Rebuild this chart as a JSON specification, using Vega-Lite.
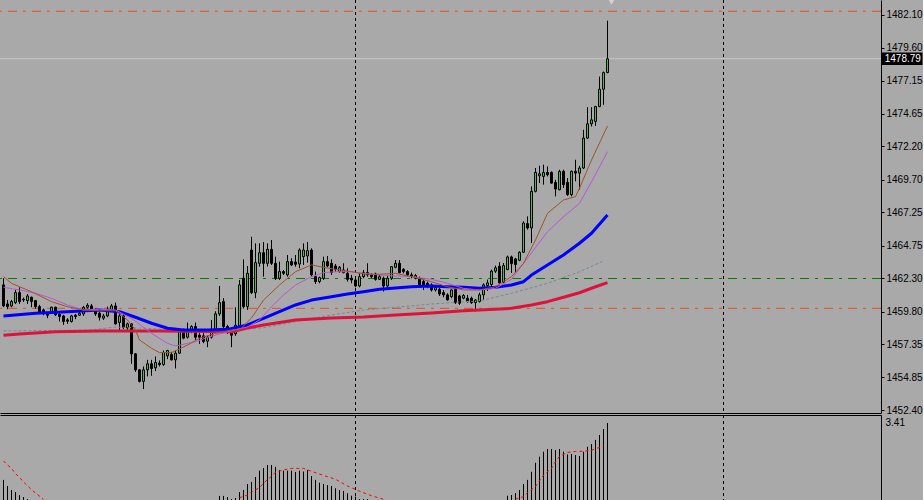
{
  "$schema": "https://vega.github.io/schema/vega-lite/v6.json",
  "background": "#A9A9A9",
  "padding": 0,
  "spacing": 2,
  "bounds": "flush",
  "config": {
    "view": {"stroke": null},
    "axis": {"labelFont": "Liberation Sans", "labelFontSize": 10, "labelColor": "#000000", "domainColor": "#000000", "tickColor": "#000000", "grid": false, "labelOverlap": false}
  },
  "datasets": {
    "candles": [
      {"i":0,"o":1461.80,"h":1462.30,"l":1460.12,"c":1460.22},
      {"i":1,"o":1460.37,"h":1460.67,"l":1459.97,"c":1460.17},
      {"i":2,"o":1460.22,"h":1460.67,"l":1460.12,"c":1460.55},
      {"i":3,"o":1460.47,"h":1461.42,"l":1460.37,"c":1461.22},
      {"i":4,"o":1461.22,"h":1461.62,"l":1460.37,"c":1460.55},
      {"i":5,"o":1460.72,"h":1460.85,"l":1460.52,"c":1460.67},
      {"i":6,"o":1460.62,"h":1461.12,"l":1460.37,"c":1460.97},
      {"i":7,"o":1460.87,"h":1460.92,"l":1460.12,"c":1460.55},
      {"i":8,"o":1460.62,"h":1460.67,"l":1460.02,"c":1460.17},
      {"i":9,"o":1460.17,"h":1460.30,"l":1459.67,"c":1459.77},
      {"i":10,"o":1459.92,"h":1460.02,"l":1459.52,"c":1459.72},
      {"i":11,"o":1459.72,"h":1459.77,"l":1459.30,"c":1459.52},
      {"i":12,"o":1459.67,"h":1460.17,"l":1459.62,"c":1460.12},
      {"i":13,"o":1460.12,"h":1460.17,"l":1459.47,"c":1459.55},
      {"i":14,"o":1459.60,"h":1459.67,"l":1459.05,"c":1459.42},
      {"i":15,"o":1459.47,"h":1459.55,"l":1458.80,"c":1459.05},
      {"i":16,"o":1459.17,"h":1459.30,"l":1458.87,"c":1459.07},
      {"i":17,"o":1459.05,"h":1459.55,"l":1458.97,"c":1459.47},
      {"i":18,"o":1459.52,"h":1459.62,"l":1459.22,"c":1459.42},
      {"i":19,"o":1459.52,"h":1459.77,"l":1459.47,"c":1459.67},
      {"i":20,"o":1459.62,"h":1460.22,"l":1459.47,"c":1460.12},
      {"i":21,"o":1460.12,"h":1460.42,"l":1460.02,"c":1460.27},
      {"i":22,"o":1460.22,"h":1460.37,"l":1459.82,"c":1459.92},
      {"i":23,"o":1459.92,"h":1460.02,"l":1459.47,"c":1459.62},
      {"i":24,"o":1459.67,"h":1459.77,"l":1459.12,"c":1459.37},
      {"i":25,"o":1459.30,"h":1459.62,"l":1459.17,"c":1459.47},
      {"i":26,"o":1459.47,"h":1460.17,"l":1459.37,"c":1459.97},
      {"i":27,"o":1459.92,"h":1460.37,"l":1459.77,"c":1460.22},
      {"i":28,"o":1460.22,"h":1460.47,"l":1458.82,"c":1458.87},
      {"i":29,"o":1458.97,"h":1459.67,"l":1458.30,"c":1459.47},
      {"i":30,"o":1459.47,"h":1459.67,"l":1458.47,"c":1458.62},
      {"i":31,"o":1458.57,"h":1458.97,"l":1458.42,"c":1458.87},
      {"i":32,"o":1458.87,"h":1458.92,"l":1455.87,"c":1456.62},
      {"i":33,"o":1456.62,"h":1456.67,"l":1455.27,"c":1455.42},
      {"i":34,"o":1455.42,"h":1455.47,"l":1454.47,"c":1454.55},
      {"i":35,"o":1454.55,"h":1455.67,"l":1453.97,"c":1455.42},
      {"i":36,"o":1455.42,"h":1456.17,"l":1454.92,"c":1455.87},
      {"i":37,"o":1455.87,"h":1456.17,"l":1454.97,"c":1455.52},
      {"i":38,"o":1455.57,"h":1456.42,"l":1455.32,"c":1455.97},
      {"i":39,"o":1455.92,"h":1456.12,"l":1455.67,"c":1455.82},
      {"i":40,"o":1455.82,"h":1456.87,"l":1455.72,"c":1456.72},
      {"i":41,"o":1456.47,"h":1456.92,"l":1456.22,"c":1456.87},
      {"i":42,"o":1456.57,"h":1456.77,"l":1456.12,"c":1456.17},
      {"i":43,"o":1456.17,"h":1456.87,"l":1455.52,"c":1456.67},
      {"i":44,"o":1456.67,"h":1458.52,"l":1456.62,"c":1458.37},
      {"i":45,"o":1458.37,"h":1458.52,"l":1457.72,"c":1457.80},
      {"i":46,"o":1457.87,"h":1458.97,"l":1457.77,"c":1458.35},
      {"i":47,"o":1458.30,"h":1458.77,"l":1458.17,"c":1458.67},
      {"i":48,"o":1458.67,"h":1458.97,"l":1457.67,"c":1457.87},
      {"i":49,"o":1458.02,"h":1458.27,"l":1457.37,"c":1457.87},
      {"i":50,"o":1457.97,"h":1458.30,"l":1457.42,"c":1457.55},
      {"i":51,"o":1457.57,"h":1457.97,"l":1457.12,"c":1457.87},
      {"i":52,"o":1457.87,"h":1459.17,"l":1457.77,"c":1458.42},
      {"i":53,"o":1458.42,"h":1459.82,"l":1458.32,"c":1459.62},
      {"i":54,"o":1459.62,"h":1461.72,"l":1459.47,"c":1460.47},
      {"i":55,"o":1460.55,"h":1460.80,"l":1458.55,"c":1458.67},
      {"i":56,"o":1458.67,"h":1458.80,"l":1458.12,"c":1458.30},
      {"i":57,"o":1458.30,"h":1458.52,"l":1457.12,"c":1458.02},
      {"i":58,"o":1458.12,"h":1460.12,"l":1457.97,"c":1458.77},
      {"i":59,"o":1458.72,"h":1462.17,"l":1458.62,"c":1461.80},
      {"i":60,"o":1462.30,"h":1463.72,"l":1460.02,"c":1460.17},
      {"i":61,"o":1460.17,"h":1463.22,"l":1459.92,"c":1462.67},
      {"i":62,"o":1464.42,"h":1465.42,"l":1461.12,"c":1461.22},
      {"i":63,"o":1461.22,"h":1464.92,"l":1460.80,"c":1463.47},
      {"i":64,"o":1463.42,"h":1464.92,"l":1463.17,"c":1464.22},
      {"i":65,"o":1464.22,"h":1465.02,"l":1462.42,"c":1463.42},
      {"i":66,"o":1463.42,"h":1464.92,"l":1463.17,"c":1464.47},
      {"i":67,"o":1464.47,"h":1465.17,"l":1463.30,"c":1463.42},
      {"i":68,"o":1463.42,"h":1463.92,"l":1462.17,"c":1462.30},
      {"i":69,"o":1462.30,"h":1463.55,"l":1462.17,"c":1462.80},
      {"i":70,"o":1462.80,"h":1462.92,"l":1462.55,"c":1462.67},
      {"i":71,"o":1462.55,"h":1464.05,"l":1462.42,"c":1463.55},
      {"i":72,"o":1463.55,"h":1463.80,"l":1463.22,"c":1463.30},
      {"i":73,"o":1463.52,"h":1464.05,"l":1463.17,"c":1463.35},
      {"i":74,"o":1463.37,"h":1464.55,"l":1463.05,"c":1464.42},
      {"i":75,"o":1463.92,"h":1464.92,"l":1463.30,"c":1464.42},
      {"i":76,"o":1463.97,"h":1465.02,"l":1463.47,"c":1464.37},
      {"i":77,"o":1464.42,"h":1464.55,"l":1462.42,"c":1462.55},
      {"i":78,"o":1462.42,"h":1462.80,"l":1461.87,"c":1462.05},
      {"i":79,"o":1462.05,"h":1462.42,"l":1461.92,"c":1462.35},
      {"i":80,"o":1462.30,"h":1463.92,"l":1462.17,"c":1463.55},
      {"i":81,"o":1463.55,"h":1463.97,"l":1463.12,"c":1463.22},
      {"i":82,"o":1463.42,"h":1463.72,"l":1462.55,"c":1462.72},
      {"i":83,"o":1463.22,"h":1463.37,"l":1462.80,"c":1462.97},
      {"i":84,"o":1462.80,"h":1463.22,"l":1462.72,"c":1463.12},
      {"i":85,"o":1462.72,"h":1463.42,"l":1462.67,"c":1462.92},
      {"i":86,"o":1462.67,"h":1463.05,"l":1462.05,"c":1462.22},
      {"i":87,"o":1462.30,"h":1462.55,"l":1461.92,"c":1462.17},
      {"i":88,"o":1462.17,"h":1462.42,"l":1461.62,"c":1461.72},
      {"i":89,"o":1461.72,"h":1462.67,"l":1461.62,"c":1462.42},
      {"i":90,"o":1462.42,"h":1462.92,"l":1462.30,"c":1462.72},
      {"i":91,"o":1462.72,"h":1463.42,"l":1462.42,"c":1462.55},
      {"i":92,"o":1462.55,"h":1462.67,"l":1462.30,"c":1462.42},
      {"i":93,"o":1462.62,"h":1462.72,"l":1462.12,"c":1462.22},
      {"i":94,"o":1462.22,"h":1462.55,"l":1462.17,"c":1462.42},
      {"i":95,"o":1462.30,"h":1462.42,"l":1461.30,"c":1461.72},
      {"i":96,"o":1461.72,"h":1462.55,"l":1461.62,"c":1462.30},
      {"i":97,"o":1462.30,"h":1463.22,"l":1462.17,"c":1463.17},
      {"i":98,"o":1463.12,"h":1463.67,"l":1463.05,"c":1463.42},
      {"i":99,"o":1463.42,"h":1463.67,"l":1462.67,"c":1462.72},
      {"i":100,"o":1462.97,"h":1463.05,"l":1462.67,"c":1462.80},
      {"i":101,"o":1462.80,"h":1462.92,"l":1462.42,"c":1462.55},
      {"i":102,"o":1462.55,"h":1462.72,"l":1462.30,"c":1462.42},
      {"i":103,"o":1462.30,"h":1462.62,"l":1462.22,"c":1462.50},
      {"i":104,"o":1462.30,"h":1462.42,"l":1461.62,"c":1461.72},
      {"i":105,"o":1462.05,"h":1462.17,"l":1461.42,"c":1461.80},
      {"i":106,"o":1461.92,"h":1462.05,"l":1461.55,"c":1461.67},
      {"i":107,"o":1461.80,"h":1461.92,"l":1461.30,"c":1461.42},
      {"i":108,"o":1461.42,"h":1461.72,"l":1461.30,"c":1461.62},
      {"i":109,"o":1461.47,"h":1461.57,"l":1460.97,"c":1461.12},
      {"i":110,"o":1461.22,"h":1461.42,"l":1460.87,"c":1461.05},
      {"i":111,"o":1461.05,"h":1461.17,"l":1460.62,"c":1460.67},
      {"i":112,"o":1460.92,"h":1461.47,"l":1460.80,"c":1461.42},
      {"i":113,"o":1461.47,"h":1461.55,"l":1460.37,"c":1460.47},
      {"i":114,"o":1460.97,"h":1461.05,"l":1460.30,"c":1460.42},
      {"i":115,"o":1460.80,"h":1461.12,"l":1460.72,"c":1461.00},
      {"i":116,"o":1460.80,"h":1461.05,"l":1460.47,"c":1460.55},
      {"i":117,"o":1460.80,"h":1460.92,"l":1460.37,"c":1460.47},
      {"i":118,"o":1460.47,"h":1460.72,"l":1459.80,"c":1460.67},
      {"i":119,"o":1460.55,"h":1461.22,"l":1460.47,"c":1461.05},
      {"i":120,"o":1461.05,"h":1461.92,"l":1460.67,"c":1461.80},
      {"i":121,"o":1461.75,"h":1462.20,"l":1461.35,"c":1461.95},
      {"i":122,"o":1461.83,"h":1462.95,"l":1461.70,"c":1462.83},
      {"i":123,"o":1462.83,"h":1463.25,"l":1462.70,"c":1463.08},
      {"i":124,"o":1463.20,"h":1463.50,"l":1461.90,"c":1461.95},
      {"i":125,"o":1462.00,"h":1463.45,"l":1461.90,"c":1463.25},
      {"i":126,"o":1462.95,"h":1464.00,"l":1462.90,"c":1463.90},
      {"i":127,"o":1463.90,"h":1464.00,"l":1462.70,"c":1463.40},
      {"i":128,"o":1463.75,"h":1463.83,"l":1462.75,"c":1463.33},
      {"i":129,"o":1463.65,"h":1464.33,"l":1463.58,"c":1464.25},
      {"i":130,"o":1464.25,"h":1466.58,"l":1464.20,"c":1466.45},
      {"i":131,"o":1466.40,"h":1466.95,"l":1465.95,"c":1466.08},
      {"i":132,"o":1466.08,"h":1469.20,"l":1464.95,"c":1468.83},
      {"i":133,"o":1468.83,"h":1470.58,"l":1468.75,"c":1470.25},
      {"i":134,"o":1470.00,"h":1470.75,"l":1469.45,"c":1470.15},
      {"i":135,"o":1469.95,"h":1470.83,"l":1469.33,"c":1470.25},
      {"i":136,"o":1470.25,"h":1470.70,"l":1469.95,"c":1470.08},
      {"i":137,"o":1470.25,"h":1470.33,"l":1469.40,"c":1469.45},
      {"i":138,"o":1469.50,"h":1469.70,"l":1468.45,"c":1469.00},
      {"i":139,"o":1468.95,"h":1470.45,"l":1468.90,"c":1470.33},
      {"i":140,"o":1470.33,"h":1470.45,"l":1469.08,"c":1469.33},
      {"i":141,"o":1469.50,"h":1469.83,"l":1468.50,"c":1468.58},
      {"i":142,"o":1468.58,"h":1470.40,"l":1468.45,"c":1470.33},
      {"i":143,"o":1470.33,"h":1471.20,"l":1469.58,"c":1470.20},
      {"i":144,"o":1470.20,"h":1470.75,"l":1468.95,"c":1470.58},
      {"i":145,"o":1470.58,"h":1473.45,"l":1470.50,"c":1472.83},
      {"i":146,"o":1472.83,"h":1475.15,"l":1472.75,"c":1473.90},
      {"i":147,"o":1473.90,"h":1475.15,"l":1473.70,"c":1474.20},
      {"i":148,"o":1474.08,"h":1475.25,"l":1473.75,"c":1475.20},
      {"i":149,"o":1475.20,"h":1477.45,"l":1475.15,"c":1476.50},
      {"i":150,"o":1476.50,"h":1477.83,"l":1475.33,"c":1477.75},
      {"i":151,"o":1477.75,"h":1481.65,"l":1477.70,"c":1478.79}
    ],
    "ma_red": [
      {"i":0,"v":1458.01},{"i":4,"v":1458.11},{"i":13,"v":1458.28},{"i":24,"v":1458.34},{"i":39,"v":1458.34},{"i":57,"v":1458.28},{"i":61,"v":1458.56},{"i":65,"v":1458.79},{"i":73,"v":1459.16},{"i":82,"v":1459.31},{"i":90,"v":1459.39},{"i":98,"v":1459.54},{"i":107,"v":1459.69},{"i":115,"v":1459.86},{"i":123,"v":1459.97},{"i":127,"v":1460.04},{"i":132,"v":1460.29},{"i":136,"v":1460.54},{"i":140,"v":1460.87},{"i":144,"v":1461.21},{"i":148,"v":1461.66},{"i":151,"v":1461.97}
    ],
    "ma_blue": [
      {"i":0,"v":1459.46},{"i":8,"v":1459.67},{"i":16,"v":1459.79},{"i":24,"v":1459.91},{"i":29,"v":1459.79},{"i":33,"v":1459.37},{"i":37,"v":1458.92},{"i":41,"v":1458.54},{"i":45,"v":1458.41},{"i":51,"v":1458.41},{"i":56,"v":1458.46},{"i":61,"v":1458.79},{"i":65,"v":1459.29},{"i":69,"v":1459.79},{"i":73,"v":1460.29},{"i":77,"v":1460.66},{"i":82,"v":1460.91},{"i":86,"v":1461.12},{"i":90,"v":1461.29},{"i":94,"v":1461.47},{"i":98,"v":1461.57},{"i":102,"v":1461.66},{"i":107,"v":1461.72},{"i":111,"v":1461.66},{"i":115,"v":1461.62},{"i":119,"v":1461.54},{"i":123,"v":1461.62},{"i":127,"v":1461.79},{"i":130,"v":1462.04},{"i":132,"v":1462.54},{"i":136,"v":1463.30},{"i":140,"v":1464.05},{"i":144,"v":1464.93},{"i":147,"v":1465.68},{"i":151,"v":1467.05}
    ],
    "ma_grey": [
      {"i":0,"v":1458.34},{"i":22,"v":1458.41},{"i":28,"v":1458.64},{"i":34,"v":1458.56},{"i":45,"v":1458.41},{"i":57,"v":1458.41},{"i":65,"v":1458.58},{"i":73,"v":1459.04},{"i":82,"v":1459.54},{"i":90,"v":1459.91},{"i":98,"v":1460.12},{"i":107,"v":1460.36},{"i":115,"v":1460.54},{"i":119,"v":1460.59},{"i":127,"v":1461.17},{"i":136,"v":1461.92},{"i":144,"v":1462.79},{"i":150,"v":1463.60}
    ],
    "ma_brown": [
      {"i":0,"v":1462.42},{"i":2,"v":1461.92},{"i":4,"v":1461.66},{"i":7,"v":1461.29},{"i":12,"v":1460.54},{"i":16,"v":1460.16},{"i":20,"v":1459.91},{"i":24,"v":1459.86},{"i":28,"v":1459.86},{"i":31,"v":1459.16},{"i":33,"v":1458.41},{"i":34,"v":1457.66},{"i":37,"v":1457.04},{"i":39,"v":1456.71},{"i":42,"v":1456.71},{"i":46,"v":1457.28},{"i":49,"v":1457.79},{"i":53,"v":1458.16},{"i":57,"v":1458.41},{"i":59,"v":1458.41},{"i":62,"v":1459.31},{"i":65,"v":1460.66},{"i":69,"v":1461.79},{"i":73,"v":1462.79},{"i":77,"v":1463.30},{"i":80,"v":1463.12},{"i":83,"v":1462.97},{"i":87,"v":1462.79},{"i":90,"v":1462.62},{"i":94,"v":1462.60},{"i":98,"v":1462.67},{"i":102,"v":1462.42},{"i":107,"v":1462.04},{"i":111,"v":1461.66},{"i":115,"v":1461.42},{"i":119,"v":1461.42},{"i":123,"v":1461.66},{"i":127,"v":1462.42},{"i":130,"v":1463.42},{"i":133,"v":1465.17},{"i":136,"v":1467.18},{"i":140,"v":1468.18},{"i":143,"v":1468.43},{"i":144,"v":1469.06},{"i":147,"v":1471.18},{"i":151,"v":1473.74}
    ],
    "ma_purple": [
      {"i":0,"v":1461.62},{"i":4,"v":1461.42},{"i":8,"v":1461.17},{"i":12,"v":1460.79},{"i":16,"v":1460.29},{"i":20,"v":1459.91},{"i":24,"v":1459.97},{"i":28,"v":1459.91},{"i":32,"v":1459.29},{"i":37,"v":1458.16},{"i":41,"v":1457.41},{"i":43,"v":1457.21},{"i":48,"v":1457.53},{"i":51,"v":1457.86},{"i":56,"v":1458.28},{"i":61,"v":1458.64},{"i":64,"v":1459.16},{"i":67,"v":1460.16},{"i":70,"v":1461.04},{"i":73,"v":1461.79},{"i":77,"v":1462.42},{"i":80,"v":1462.72},{"i":83,"v":1462.79},{"i":87,"v":1462.79},{"i":90,"v":1462.67},{"i":94,"v":1462.54},{"i":98,"v":1462.47},{"i":102,"v":1462.42},{"i":107,"v":1462.22},{"i":111,"v":1461.92},{"i":115,"v":1461.54},{"i":119,"v":1461.42},{"i":123,"v":1461.54},{"i":127,"v":1462.22},{"i":131,"v":1463.80},{"i":136,"v":1465.80},{"i":140,"v":1466.92},{"i":144,"v":1467.93},{"i":147,"v":1469.55},{"i":151,"v":1471.81}
    ],
    "levels": [
      {"name":"tp","p":1482.36},
      {"name":"open","p":1462.28},
      {"name":"sl","p":1460.04}
    ],
    "bid": [{"p":1478.79}],
    "seps": [{"i":88},{"i":180}],
    "hist": [
      {"i":0,"v":0.89},{"i":1,"v":0.62},{"i":2,"v":0.44},{"i":3,"v":0.35},{"i":4,"v":0.22},{"i":5,"v":0.13},{"i":6,"v":0.04},
      {"i":54,"v":0.18},{"i":55,"v":0.18},{"i":56,"v":0.13},{"i":57,"v":0.04},{"i":58,"v":0.09},{"i":59,"v":0.35},{"i":60,"v":0.44},{"i":61,"v":0.71},{"i":62,"v":0.80},{"i":63,"v":1.02},{"i":64,"v":1.30},{"i":65,"v":1.42},{"i":66,"v":1.55},{"i":67,"v":1.55},{"i":68,"v":1.47},{"i":69,"v":1.33},{"i":70,"v":1.30},{"i":71,"v":1.30},{"i":72,"v":1.30},{"i":73,"v":1.24},{"i":74,"v":1.30},{"i":75,"v":1.26},{"i":76,"v":1.33},{"i":77,"v":1.06},{"i":78,"v":0.89},{"i":79,"v":0.77},{"i":80,"v":0.71},{"i":81,"v":0.66},{"i":82,"v":0.62},{"i":83,"v":0.52},{"i":84,"v":0.44},{"i":85,"v":0.40},{"i":86,"v":0.30},{"i":87,"v":0.19},{"i":88,"v":0.15},{"i":89,"v":0.04},{"i":90,"v":0.04},{"i":91,"v":0.04},
      {"i":126,"v":0.19},{"i":127,"v":0.22},{"i":128,"v":0.31},{"i":129,"v":0.44},{"i":130,"v":0.71},{"i":131,"v":0.89},{"i":132,"v":1.25},{"i":133,"v":1.65},{"i":134,"v":1.92},{"i":135,"v":2.14},{"i":136,"v":2.26},{"i":137,"v":2.26},{"i":138,"v":2.21},{"i":139,"v":2.26},{"i":140,"v":2.14},{"i":141,"v":2.02},{"i":142,"v":2.04},{"i":143,"v":1.99},{"i":144,"v":1.95},{"i":145,"v":2.14},{"i":146,"v":2.36},{"i":147,"v":2.48},{"i":148,"v":2.66},{"i":149,"v":2.88},{"i":150,"v":3.14},{"i":151,"v":3.41}
    ],
    "signal": [
      {"seg":"a","i":0,"v":1.73},{"seg":"a","i":1,"v":1.55},{"seg":"a","i":2,"v":1.40},{"seg":"a","i":3,"v":1.17},{"seg":"a","i":4,"v":1.00},{"seg":"a","i":5,"v":0.80},{"seg":"a","i":6,"v":0.63},{"seg":"a","i":7,"v":0.46},{"seg":"a","i":8,"v":0.31},{"seg":"a","i":9,"v":0.17},{"seg":"a","i":10,"v":0.03},
      {"seg":"b","i":59,"v":0.10},{"seg":"b","i":61,"v":0.22},{"seg":"b","i":62,"v":0.35},{"seg":"b","i":64,"v":0.55},{"seg":"b","i":65,"v":0.74},{"seg":"b","i":67,"v":1.05},{"seg":"b","i":68,"v":1.23},{"seg":"b","i":70,"v":1.33},{"seg":"b","i":72,"v":1.40},{"seg":"b","i":75,"v":1.40},{"seg":"b","i":77,"v":1.27},{"seg":"b","i":80,"v":1.09},{"seg":"b","i":83,"v":0.92},{"seg":"b","i":86,"v":0.62},{"seg":"b","i":89,"v":0.39},{"seg":"b","i":92,"v":0.19},{"seg":"b","i":95,"v":0.03},
      {"seg":"c","i":128,"v":0.03},{"seg":"c","i":130,"v":0.15},{"seg":"c","i":131,"v":0.33},{"seg":"c","i":133,"v":0.59},{"seg":"c","i":134,"v":0.85},{"seg":"c","i":135,"v":1.10},{"seg":"c","i":137,"v":1.40},{"seg":"c","i":138,"v":1.70},{"seg":"c","i":139,"v":1.93},{"seg":"c","i":141,"v":2.11},{"seg":"c","i":143,"v":2.15},{"seg":"c","i":145,"v":2.16},{"seg":"c","i":147,"v":2.20},{"seg":"c","i":148,"v":2.27},{"seg":"c","i":150,"v":2.39}
    ]
  },
  "vconcat": [
    {
      "width": 881,
      "height": 413,
      "layer": [
        {
          "data": {"name": "seps"},
          "mark": {"type": "rule", "color": "#000000", "strokeWidth": 1, "strokeDash": [3, 3], "clip": true},
          "encoding": {
            "x": {"field": "i", "type": "quantitative", "scale": {"domain": [-0.875, 219.375], "nice": false, "zero": false, "padding": 0},
                  "axis": {"orient": "bottom", "labels": false, "ticks": false, "domain": true, "title": null}}
          }
        },
        {
          "data": {"name": "levels"},
          "mark": {"type": "rule", "strokeWidth": 1, "strokeDash": [9, 6, 3, 6], "clip": true},
          "encoding": {
            "y": {"field": "p", "type": "quantitative", "scale": {"domain": [1452.175, 1483.204], "nice": false, "zero": false, "padding": 0},
                  "axis": {"orient": "right", "values": [1482.10, 1479.60, 1477.15, 1474.65, 1472.20, 1469.70, 1467.25, 1464.75, 1462.30, 1459.80, 1457.35, 1454.85, 1452.40], "format": ".2f", "tickSize": 3, "labelPadding": 2, "title": null}},
            "color": {"field": "name", "type": "nominal", "scale": {"domain": ["tp", "open", "sl"], "range": ["#E84E1B", "#008000", "#E84E1B"]}, "legend": null}
          }
        },
        {
          "data": {"name": "bid"},
          "mark": {"type": "rule", "color": "#C8C8C8", "strokeWidth": 1, "clip": true},
          "encoding": {
            "y": {"field": "p", "type": "quantitative", "scale": {"domain": [1452.175, 1483.204], "nice": false, "zero": false, "padding": 0},
                  "axis": {"orient": "right", "values": [1482.10, 1479.60, 1477.15, 1474.65, 1472.20, 1469.70, 1467.25, 1464.75, 1462.30, 1459.80, 1457.35, 1454.85, 1452.40], "format": ".2f", "tickSize": 3, "labelPadding": 2, "title": null}}
          }
        },
        {
          "data": {"name": "candles"},
          "mark": {"type": "rule", "color": "#000000", "strokeWidth": 1, "clip": true},
          "encoding": {
            "x": {"field": "i", "type": "quantitative", "scale": {"domain": [-0.875, 219.375], "nice": false, "zero": false, "padding": 0},
                  "axis": {"orient": "bottom", "labels": false, "ticks": false, "domain": true, "title": null}},
            "y": {"field": "l", "type": "quantitative", "scale": {"domain": [1452.175, 1483.204], "nice": false, "zero": false, "padding": 0},
                  "axis": {"orient": "right", "values": [1482.10, 1479.60, 1477.15, 1474.65, 1472.20, 1469.70, 1467.25, 1464.75, 1462.30, 1459.80, 1457.35, 1454.85, 1452.40], "format": ".2f", "tickSize": 3, "labelPadding": 2, "title": null}},
            "y2": {"field": "h"}
          }
        },
        {
          "data": {"name": "candles"},
          "mark": {"type": "bar", "size": 2, "stroke": "#000000", "strokeWidth": 1, "clip": true},
          "encoding": {
            "x": {"field": "i", "type": "quantitative", "scale": {"domain": [-0.875, 219.375], "nice": false, "zero": false, "padding": 0},
                  "axis": {"orient": "bottom", "labels": false, "ticks": false, "domain": true, "title": null}},
            "y": {"field": "o", "type": "quantitative", "scale": {"domain": [1452.175, 1483.204], "nice": false, "zero": false, "padding": 0},
                  "axis": {"orient": "right", "values": [1482.10, 1479.60, 1477.15, 1474.65, 1472.20, 1469.70, 1467.25, 1464.75, 1462.30, 1459.80, 1457.35, 1454.85, 1452.40], "format": ".2f", "tickSize": 3, "labelPadding": 2, "title": null}},
            "y2": {"field": "c"},
            "fill": {"condition": {"test": "datum.c >= datum.o", "value": "#32CD32"}, "value": "#000000"}
          }
        },
        {
          "data": {"name": "ma_grey"},
          "mark": {"type": "line", "color": "#778899", "strokeWidth": 1, "strokeDash": [3, 2], "strokeJoin": "round", "clip": true},
          "encoding": {
            "x": {"field": "i", "type": "quantitative", "scale": {"domain": [-0.875, 219.375], "nice": false, "zero": false, "padding": 0},
                  "axis": {"orient": "bottom", "labels": false, "ticks": false, "domain": true, "title": null}},
            "y": {"field": "v", "type": "quantitative", "scale": {"domain": [1452.175, 1483.204], "nice": false, "zero": false, "padding": 0},
                  "axis": {"orient": "right", "values": [1482.10, 1479.60, 1477.15, 1474.65, 1472.20, 1469.70, 1467.25, 1464.75, 1462.30, 1459.80, 1457.35, 1454.85, 1452.40], "format": ".2f", "tickSize": 3, "labelPadding": 2, "title": null}}
          }
        },
        {
          "data": {"name": "ma_red"},
          "mark": {"type": "line", "color": "#DC143C", "strokeWidth": 3, "strokeJoin": "round", "clip": true},
          "encoding": {
            "x": {"field": "i", "type": "quantitative", "scale": {"domain": [-0.875, 219.375], "nice": false, "zero": false, "padding": 0},
                  "axis": {"orient": "bottom", "labels": false, "ticks": false, "domain": true, "title": null}},
            "y": {"field": "v", "type": "quantitative", "scale": {"domain": [1452.175, 1483.204], "nice": false, "zero": false, "padding": 0},
                  "axis": {"orient": "right", "values": [1482.10, 1479.60, 1477.15, 1474.65, 1472.20, 1469.70, 1467.25, 1464.75, 1462.30, 1459.80, 1457.35, 1454.85, 1452.40], "format": ".2f", "tickSize": 3, "labelPadding": 2, "title": null}}
          }
        },
        {
          "data": {"name": "ma_blue"},
          "mark": {"type": "line", "color": "#0000FF", "strokeWidth": 3, "strokeJoin": "round", "clip": true},
          "encoding": {
            "x": {"field": "i", "type": "quantitative", "scale": {"domain": [-0.875, 219.375], "nice": false, "zero": false, "padding": 0},
                  "axis": {"orient": "bottom", "labels": false, "ticks": false, "domain": true, "title": null}},
            "y": {"field": "v", "type": "quantitative", "scale": {"domain": [1452.175, 1483.204], "nice": false, "zero": false, "padding": 0},
                  "axis": {"orient": "right", "values": [1482.10, 1479.60, 1477.15, 1474.65, 1472.20, 1469.70, 1467.25, 1464.75, 1462.30, 1459.80, 1457.35, 1454.85, 1452.40], "format": ".2f", "tickSize": 3, "labelPadding": 2, "title": null}}
          }
        },
        {
          "data": {"name": "ma_purple"},
          "mark": {"type": "line", "color": "#BA55D3", "strokeWidth": 1, "strokeJoin": "round", "clip": true},
          "encoding": {
            "x": {"field": "i", "type": "quantitative", "scale": {"domain": [-0.875, 219.375], "nice": false, "zero": false, "padding": 0},
                  "axis": {"orient": "bottom", "labels": false, "ticks": false, "domain": true, "title": null}},
            "y": {"field": "v", "type": "quantitative", "scale": {"domain": [1452.175, 1483.204], "nice": false, "zero": false, "padding": 0},
                  "axis": {"orient": "right", "values": [1482.10, 1479.60, 1477.15, 1474.65, 1472.20, 1469.70, 1467.25, 1464.75, 1462.30, 1459.80, 1457.35, 1454.85, 1452.40], "format": ".2f", "tickSize": 3, "labelPadding": 2, "title": null}}
          }
        },
        {
          "data": {"name": "ma_brown"},
          "mark": {"type": "line", "color": "#A0522D", "strokeWidth": 1, "strokeJoin": "round", "clip": true},
          "encoding": {
            "x": {"field": "i", "type": "quantitative", "scale": {"domain": [-0.875, 219.375], "nice": false, "zero": false, "padding": 0},
                  "axis": {"orient": "bottom", "labels": false, "ticks": false, "domain": true, "title": null}},
            "y": {"field": "v", "type": "quantitative", "scale": {"domain": [1452.175, 1483.204], "nice": false, "zero": false, "padding": 0},
                  "axis": {"orient": "right", "values": [1482.10, 1479.60, 1477.15, 1474.65, 1472.20, 1469.70, 1467.25, 1464.75, 1462.30, 1459.80, 1457.35, 1454.85, 1452.40], "format": ".2f", "tickSize": 3, "labelPadding": 2, "title": null}}
          }
        },
        {
          "data": {"name": "bid"},
          "mark": {"type": "rect", "color": "#000000", "clip": false},
          "encoding": {
            "x": {"datum": 219.45, "type": "quantitative", "scale": {"domain": [-0.875, 219.375], "nice": false, "zero": false, "padding": 0},
                  "axis": {"orient": "bottom", "labels": false, "ticks": false, "domain": true, "title": null}},
            "x2": {"datum": 229.75},
            "y": {"datum": 1479.26, "type": "quantitative", "scale": {"domain": [1452.175, 1483.204], "nice": false, "zero": false, "padding": 0},
                  "axis": {"orient": "right", "values": [1482.10, 1479.60, 1477.15, 1474.65, 1472.20, 1469.70, 1467.25, 1464.75, 1462.30, 1459.80, 1457.35, 1454.85, 1452.40], "format": ".2f", "tickSize": 3, "labelPadding": 2, "title": null}},
            "y2": {"datum": 1478.32}
          }
        },
        {
          "data": {"name": "bid"},
          "mark": {"type": "text", "color": "#FFFFFF", "align": "left", "baseline": "middle", "font": "Liberation Sans", "fontSize": 10, "clip": false},
          "encoding": {
            "x": {"datum": 220.3, "type": "quantitative", "scale": {"domain": [-0.875, 219.375], "nice": false, "zero": false, "padding": 0},
                  "axis": {"orient": "bottom", "labels": false, "ticks": false, "domain": true, "title": null}},
            "y": {"field": "p", "type": "quantitative", "scale": {"domain": [1452.175, 1483.204], "nice": false, "zero": false, "padding": 0},
                  "axis": {"orient": "right", "values": [1482.10, 1479.60, 1477.15, 1474.65, 1472.20, 1469.70, 1467.25, 1464.75, 1462.30, 1459.80, 1457.35, 1454.85, 1452.40], "format": ".2f", "tickSize": 3, "labelPadding": 2, "title": null}},
            "text": {"field": "p", "type": "quantitative", "format": ".2f"}
          }
        },
        {
          "data": {"name": "bid"},
          "mark": {"type": "point", "shape": "triangle-down", "filled": true, "color": "#D3D3D3", "size": 30, "opacity": 1, "clip": true},
          "encoding": {
            "x": {"datum": 152, "type": "quantitative", "scale": {"domain": [-0.875, 219.375], "nice": false, "zero": false, "padding": 0},
                  "axis": {"orient": "bottom", "labels": false, "ticks": false, "domain": true, "title": null}},
            "y": {"datum": 1483.02, "type": "quantitative", "scale": {"domain": [1452.175, 1483.204], "nice": false, "zero": false, "padding": 0},
                  "axis": {"orient": "right", "values": [1482.10, 1479.60, 1477.15, 1474.65, 1472.20, 1469.70, 1467.25, 1464.75, 1462.30, 1459.80, 1457.35, 1454.85, 1452.40], "format": ".2f", "tickSize": 3, "labelPadding": 2, "title": null}}
          }
        }
      ]
    },
    {
      "width": 881,
      "height": 85,
      "layer": [
        {
          "data": {"name": "seps"},
          "mark": {"type": "rule", "color": "#000000", "strokeWidth": 1, "strokeDash": [3, 3], "clip": true},
          "encoding": {
            "x": {"field": "i", "type": "quantitative", "scale": {"domain": [-0.875, 219.375], "nice": false, "zero": false, "padding": 0},
                  "axis": {"orient": "top", "labels": false, "ticks": false, "domain": true, "title": null}}
          }
        },
        {
          "data": {"name": "hist"},
          "mark": {"type": "rule", "color": "#000000", "strokeWidth": 1, "clip": true},
          "encoding": {
            "x": {"field": "i", "type": "quantitative", "scale": {"domain": [-0.875, 219.375], "nice": false, "zero": false, "padding": 0},
                  "axis": {"orient": "top", "labels": false, "ticks": false, "domain": true, "title": null}},
            "y": {"field": "v", "type": "quantitative", "scale": {"domain": [0, 3.764], "nice": false, "zero": false, "padding": 0},
                  "axis": {"orient": "right", "values": [3.41], "format": ".2f", "ticks": false, "labelPadding": 4, "title": null}},
            "y2": {"datum": 0}
          }
        },
        {
          "data": {"name": "signal"},
          "mark": {"type": "line", "color": "#FF0000", "strokeWidth": 1, "strokeDash": [3, 3], "strokeJoin": "round", "clip": true},
          "encoding": {
            "x": {"field": "i", "type": "quantitative", "scale": {"domain": [-0.875, 219.375], "nice": false, "zero": false, "padding": 0},
                  "axis": {"orient": "top", "labels": false, "ticks": false, "domain": true, "title": null}},
            "y": {"field": "v", "type": "quantitative", "scale": {"domain": [0, 3.764], "nice": false, "zero": false, "padding": 0},
                  "axis": {"orient": "right", "values": [3.41], "format": ".2f", "ticks": false, "labelPadding": 4, "title": null}},
            "detail": {"field": "seg", "type": "nominal"}
          }
        }
      ]
    }
  ]
}
